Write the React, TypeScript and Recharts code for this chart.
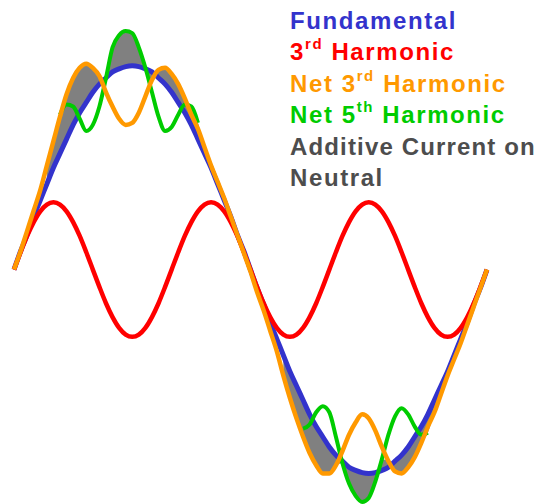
import { ComposedChart, Line, Area, XAxis, YAxis, Legend } from "recharts";

// phase angle in degrees, one cycle of the fundamental
const angles = [
  0, 5, 10, 15, 20, 25, 30, 35, 40, 45, 50, 55, 60, 65, 70, 75, 80, 85, 90, 95,
  100, 105, 110, 115, 120, 125, 130, 135, 140, 145, 150, 155, 160, 165, 170, 175,
  180, 185, 190, 195, 200, 205, 210, 215, 220, 225, 230, 235, 240, 245, 250, 255,
  260, 265, 270, 275, 280, 285, 290, 295, 300, 305, 310, 315, 320, 325, 330, 335,
  340, 345, 350, 355, 360,
];

const fundamental = [
  0, 0.09, 0.17, 0.26, 0.34, 0.42, 0.5, 0.57, 0.64, 0.71, 0.77, 0.82, 0.87, 0.91, 0.94, 0.97, 0.985, 0.996, 1, 0.996,
  0.985, 0.97, 0.94, 0.91, 0.87, 0.82, 0.77, 0.71, 0.64, 0.57, 0.5, 0.42, 0.34, 0.26, 0.17, 0.09,
  0, -0.09, -0.17, -0.26, -0.34, -0.42, -0.5, -0.57, -0.64, -0.71, -0.77, -0.82, -0.87, -0.91, -0.94, -0.97,
  -0.985, -0.996, -1, -0.996, -0.985, -0.97, -0.94, -0.91, -0.87, -0.82, -0.77, -0.71, -0.64, -0.57, -0.5, -0.42,
  -0.34, -0.26, -0.17, -0.09, 0,
];

const third = [
  0, 0.085, 0.165, 0.233, 0.286, 0.319, 0.33, 0.319, 0.286, 0.233, 0.165, 0.085, 0, -0.085, -0.165, -0.233, -0.286, -0.319, -0.33, -0.319,
  -0.286, -0.233, -0.165, -0.085, 0, 0.085, 0.165, 0.233, 0.286, 0.319, 0.33, 0.319, 0.286, 0.233, 0.165, 0.085,
  0, -0.085, -0.165, -0.233, -0.286, -0.319, -0.33, -0.319, -0.286, -0.233, -0.165, -0.085, 0, 0.085, 0.165, 0.233,
  0.286, 0.319, 0.33, 0.319, 0.286, 0.233, 0.165, 0.085, 0, -0.085, -0.165, -0.233, -0.286, -0.319, -0.33, -0.319,
  -0.286, -0.233, -0.165, -0.085, 0,
];

const net3 = [
  0, 0.09, 0.19, 0.29, 0.39, 0.51, 0.63, 0.75, 0.86, 0.94, 0.99, 1.01, 0.99, 0.95, 0.87, 0.8, 0.74, 0.71, 0.72, 0.77,
  0.85, 0.93, 0.98, 0.99, 0.96, 0.91, 0.84, 0.76, 0.69, 0.6, 0.51, 0.43, 0.35, 0.26, 0.17, 0.08,
  -0.01, -0.11, -0.2, -0.3, -0.4, -0.52, -0.63, -0.73, -0.82, -0.9, -0.96, -1.0, -1.0, -0.96, -0.89, -0.81,
  -0.75, -0.71, -0.73, -0.79, -0.87, -0.94, -0.99, -1.0, -0.97, -0.92, -0.85, -0.77, -0.7, -0.61, -0.52, -0.44,
  -0.36, -0.27, -0.18, -0.09, 0,
];

const net5 = [
  null, null, null, null, null, null, null, 0.76, 0.81, 0.8, 0.74, 0.68, 0.71, 0.8, 0.94, 1.09, 1.15, 1.17, 1.16, 1.09,
  0.99, 0.87, 0.75, 0.68, 0.7, 0.76, 0.81, 0.8, 0.72, null, null, null, null, null, null, null,
  null, null, null, null, null, null, null, null, -0.78, -0.76, -0.7, -0.67, -0.7, -0.82, -0.95, -1.05,
  -1.11, -1.14, -1.12, -1.04, -0.93, -0.81, -0.72, -0.68, -0.71, -0.77, -0.81, -0.8, null, null, null, null,
  null, null, null, null, null,
];

// angle ranges where the neutral current is shaded
const shadedRanges = [[25, 145], [205, 325]];

const data = angles.map((a, i) => {
  const f = fundamental[i];
  const inBand = shadedRanges.some(([lo, hi]) => a >= lo && a <= hi);
  let band: number[] | null = null;
  if (inBand) {
    const g = net5[i];
    const outer = f >= 0
      ? Math.max(net3[i], g ?? -9)
      : Math.min(net3[i], g ?? 9);
    band = [f, outer];
  }
  return { a, fund: f, third: third[i], net3: net3[i], net5: net5[i], band };
});

const FONT = '"Liberation Sans", Arial, sans-serif';

function Row({ color, children, ls = 1.6 }: { color: string; children: any; ls?: number }) {
  return (
    <div style={{ color, height: 31.4, lineHeight: "31.4px", whiteSpace: "nowrap", letterSpacing: ls }}>{children}</div>
  );
}

function Sup({ t }: { t: string }) {
  return <span style={{ fontSize: 15, position: "relative", top: -11 }}>{t}</span>;
}

function LegendBox() {
  return (
    <div style={{ fontFamily: FONT, fontWeight: "bold", fontSize: 24 }}>
      <Row color="#3333cc">Fundamental</Row>
      <Row color="#ff0000">3<Sup t="rd" /> Harmonic</Row>
      <Row color="#ff9900">Net 3<Sup t="rd" /> Harmonic</Row>
      <Row color="#00cc00">Net 5<Sup t="th" /> Harmonic</Row>
      <Row color="#4d4d4d" ls={1.15}>Additive Current on</Row>
      <Row color="#4d4d4d">Neutral</Row>
    </div>
  );
}

export default function App() {
  return (
    <div style={{ position: "absolute", left: 0, top: 0, width: 541, height: 504, overflow: "hidden", background: "#fff" }}>
      <ComposedChart width={541} height={504} data={data} margin={{ top: 25, right: 54, bottom: 0, left: 14 }}>
        <XAxis dataKey="a" type="number" domain={[0, 360]} hide />
        <YAxis type="number" domain={[-1.15, 1.2]} hide />
        <Legend
          layout="vertical" align="center" verticalAlign="middle"
          content={() => <LegendBox />}
          wrapperStyle={{ top: 5, left: 290, width: 250 }}
        />
        <Area dataKey="band" type="monotone" stroke="none" fill="#808080" fillOpacity={1} isAnimationActive={false} />
        <Line dataKey="fund" type="monotone" stroke="#3333cc" strokeWidth={5} dot={false} isAnimationActive={false} />
        <Line dataKey="third" type="monotone" stroke="#ff0000" strokeWidth={4.5} dot={false} isAnimationActive={false} />
        <Line dataKey="net5" type="monotone" stroke="#00cc00" strokeWidth={4} dot={false} isAnimationActive={false} />
        <Line dataKey="net3" type="monotone" stroke="#ff9900" strokeWidth={4.5} dot={false} isAnimationActive={false} />
      </ComposedChart>
    </div>
  );
}
